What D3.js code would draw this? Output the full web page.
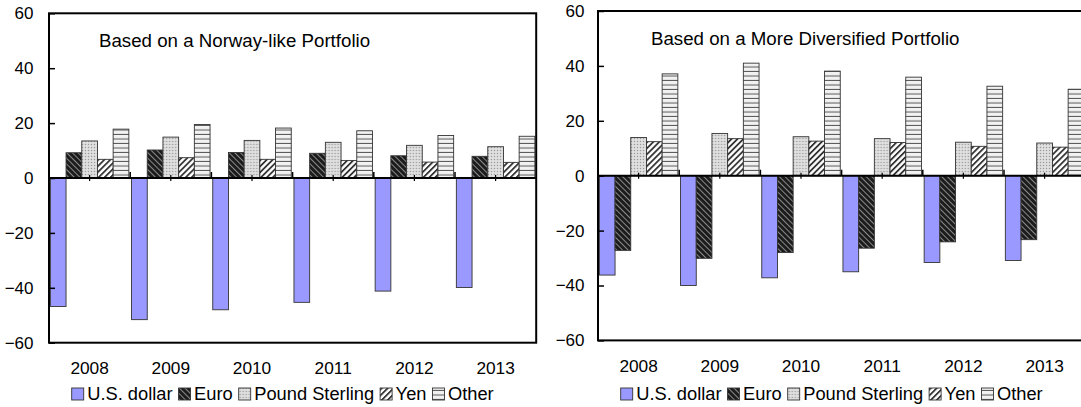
<!DOCTYPE html>
<html>
<head>
<meta charset="utf-8">
<script src="https://cdn.jsdelivr.net/npm/d3@7"></script>
<style>
  body { margin: 0; background: #fff; }
  svg { display: block; font-family: "Liberation Sans", Arial, sans-serif; }
</style>
</head>
<body>
<div id="chart"></div>
<script>
// values (percent)
var years = ["2008", "2009", "2010", "2011", "2012", "2013"];
var currencies = ["U.S. dollar", "Euro", "Pound Sterling", "Yen", "Other"];
var yTicks = [-60, -40, -20, 0, 20, 40, 60];

var norwayUsd   = [-46.8, -51.6, -48.0, -45.3, -41.2, -39.9];
var norwayEuro  = [9.2, 10.2, 9.3, 9.0, 8.1, 7.9];
var norwayPound = [13.5, 14.9, 13.7, 13.0, 11.9, 11.4];
var norwayYen   = [6.8, 7.4, 6.8, 6.4, 5.8, 5.7];
var norwayOther = [17.8, 19.5, 18.2, 17.2, 15.5, 15.2];

var divUsd   = [-36.2, -40.0, -37.2, -35.0, -31.6, -30.9];
var divEuro  = [-27.2, -30.1, -28.0, -26.4, -24.1, -23.3];
var divPound = [13.9, 15.4, 14.2, 13.5, 12.2, 11.9];
var divYen   = [12.4, 13.5, 12.6, 12.1, 10.7, 10.4];
var divOther = [37.1, 41.0, 38.1, 35.9, 32.6, 31.5];

var W = 1081, H = 407;
var fillFor = {
  "U.S. dollar": "#9999ff",
  "Euro": "url(#pEuro)",
  "Pound Sterling": "url(#pPound)",
  "Yen": "url(#pYen)",
  "Other": "url(#pOther)"
};

var svg = d3.select("#chart").append("svg")
  .attr("width", W).attr("height", H);

// fill patterns
var defs = svg.append("defs");
var pe = defs.append("pattern").attr("id", "pEuro").attr("patternUnits", "userSpaceOnUse")
  .attr("width", 4).attr("height", 4).attr("patternTransform", "rotate(-45)");
pe.append("rect").attr("width", 4).attr("height", 4).attr("fill", "#1c1c1c");
pe.append("rect").attr("width", 1).attr("height", 4).attr("fill", "#8a8a8a");

var pp = defs.append("pattern").attr("id", "pPound").attr("patternUnits", "userSpaceOnUse")
  .attr("width", 3).attr("height", 3);
pp.append("rect").attr("width", 3).attr("height", 3).attr("fill", "#d6d6d6");
pp.append("rect").attr("x", 0).attr("y", 0).attr("width", 1).attr("height", 1).attr("fill", "#9a9a9a");
pp.append("rect").attr("x", 1.5).attr("y", 1.5).attr("width", 1).attr("height", 1).attr("fill", "#ffffff");

var py = defs.append("pattern").attr("id", "pYen").attr("patternUnits", "userSpaceOnUse")
  .attr("width", 4.2).attr("height", 4).attr("patternTransform", "rotate(45)");
py.append("rect").attr("width", 4.2).attr("height", 4).attr("fill", "#ffffff");
py.append("rect").attr("width", 1.8).attr("height", 4).attr("fill", "#333333");

var po = defs.append("pattern").attr("id", "pOther").attr("patternUnits", "userSpaceOnUse")
  .attr("width", 4).attr("height", 4.5);
po.append("rect").attr("width", 4).attr("height", 4.5).attr("fill", "#f2f2f2");
po.append("rect").attr("y", 3.5).attr("width", 4).attr("height", 1).attr("fill", "#555555");

function drawPanel(cfg) {
  var series = [cfg.usd, cfg.euro, cfg.pound, cfg.yen, cfg.other];
  var rows = years.map(function(yr, i) {
    return { year: yr, values: currencies.map(function(c, j) { return { key: c, value: series[j][i] }; }) };
  });

  var x = d3.scaleBand().domain(years).range([cfg.left, cfg.left + 487.2]);
  var x1 = d3.scaleBand().domain(currencies).range([0, x.bandwidth()]).paddingOuter(0.086);
  var y = d3.scaleLinear().domain([-60, 60]).range([cfg.bottom, cfg.top]);

  var g = svg.append("g");

  // bars
  g.selectAll(".grp")
    .data(rows).enter()
    .append("g")
    .attr("transform", function(d) { return "translate(" + x(d.year) + ",0)"; })
    .selectAll("rect")
    .data(function(d) { return d.values; }).enter()
    .append("rect")
    .attr("x", function(d) { return x1(d.key); })
    .attr("y", function(d) { return y(Math.max(0, d.value)); })
    .attr("width", x1.bandwidth())
    .attr("height", function(d) { return Math.abs(y(d.value) - y(0)); })
    .attr("fill", function(d) { return fillFor[d.key]; })
    .attr("stroke", "#333")
    .attr("stroke-width", 0.9);

  // frame
  g.append("rect")
    .attr("x", cfg.left).attr("y", y(60))
    .attr("width", 487.2).attr("height", y(-60) - y(60))
    .attr("fill", "none").attr("stroke", "#000").attr("stroke-width", 2);

  // value axis
  var ya = d3.axisLeft(y).tickValues(yTicks).tickSizeInner(-6).tickSizeOuter(0).tickPadding(cfg.labelPad);
  var yg = g.append("g").attr("transform", "translate(" + cfg.left + ",0)").call(ya);
  yg.select(".domain").remove();
  yg.selectAll(".tick line").attr("stroke", "#000").attr("stroke-width", 1.5);
  yg.selectAll(".tick text").style("font-size", "17px").attr("fill", "#000")
    .attr("font-family", "Liberation Sans, Arial, sans-serif");

  // zero line with category ticks
  g.append("line")
    .attr("x1", cfg.left).attr("x2", cfg.left + 487.2)
    .attr("y1", y(0)).attr("y2", y(0))
    .attr("stroke", "#000").attr("stroke-width", 2);
  g.selectAll(".bt")
    .data(years.slice(1)).enter()
    .append("line")
    .attr("x1", function(d) { return x(d); }).attr("x2", function(d) { return x(d); })
    .attr("y1", y(0)).attr("y2", y(0) - 6)
    .attr("stroke", "#000").attr("stroke-width", 1.5);
  g.selectAll(".ct")
    .data(years).enter()
    .append("line")
    .attr("x1", function(d) { return x(d) + x.bandwidth() / 2; })
    .attr("x2", function(d) { return x(d) + x.bandwidth() / 2; })
    .attr("y1", y(0) - 3).attr("y2", y(0) + 3)
    .attr("stroke", "#000").attr("stroke-width", 1.2);

  // category labels
  var xa = d3.axisBottom(x).tickSize(0).tickPadding(19);
  var xg = g.append("g").attr("transform", "translate(0," + y(-60) + ")").call(xa);
  xg.select(".domain").remove();
  xg.selectAll(".tick text").style("font-size", "17.3px").attr("fill", "#000")
    .attr("font-family", "Liberation Sans, Arial, sans-serif");

  // title
  g.append("text")
    .attr("x", cfg.left + cfg.titleDx).attr("y", y(60) + 34)
    .style("font-size", "18.7px").attr("fill", "#000")
    .text(cfg.title);

  // legend
  var lg = g.append("g").attr("transform", "translate(" + (cfg.left + 22.7) + ",400)");
  var cx = 0;
  currencies.forEach(function(c) {
    lg.append("rect")
      .attr("x", cx).attr("y", -12).attr("width", 12).attr("height", 12)
      .attr("fill", fillFor[c]).attr("stroke", "#333").attr("stroke-width", 0.9);
    var t = lg.append("text")
      .attr("x", cx + 15.5).attr("y", 0)
      .style("font-size", "18.3px").attr("fill", "#000")
      .text(c);
    cx += 15.5 + t.node().getComputedTextLength() + 6;
  });
}

drawPanel({
  left: 49, top: 13.3, bottom: 342.7, labelPad: 15.5, titleDx: 50,
  title: "Based on a Norway-like Portfolio",
  usd: norwayUsd, euro: norwayEuro, pound: norwayPound, yen: norwayYen, other: norwayOther
});
drawPanel({
  left: 598, top: 11, bottom: 340.4, labelPad: 13.5, titleDx: 53,
  title: "Based on a More Diversified Portfolio",
  usd: divUsd, euro: divEuro, pound: divPound, yen: divYen, other: divOther
});
</script>
</body>
</html>
